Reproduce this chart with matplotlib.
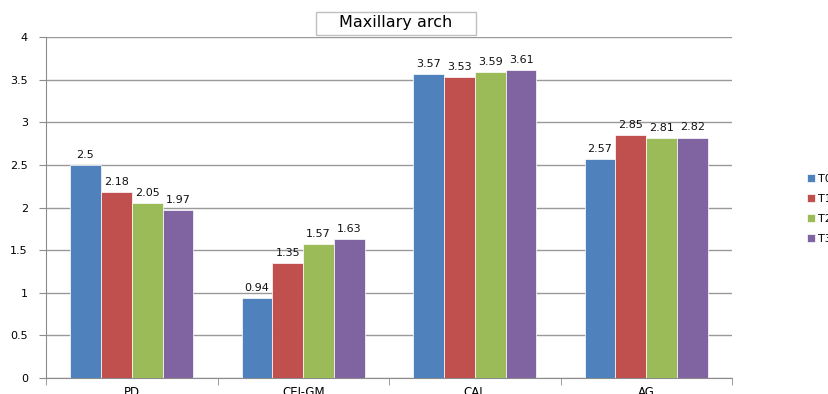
import matplotlib
matplotlib.use("Agg")
import matplotlib.pyplot as plt
from matplotlib.patches import Rectangle
import numpy as np

categories = ["PD", "CEJ-GM", "CAL", "AG"]
series_names = ["T0", "T1", "T2", "T3"]
T0 = [2.5, 0.94, 3.57, 2.57]
T1 = [2.18, 1.35, 3.53, 2.85]
T2 = [2.05, 1.57, 3.59, 2.81]
T3 = [1.97, 1.63, 3.61, 2.82]
values = [T0, T1, T2, T3]
colors = ["#4F81BD", "#C0504D", "#9BBB59", "#8064A2"]

plt.rcParams['font.family'] = ['DejaVu Sans']
fig = plt.figure(figsize=(8.29, 3.94), dpi=100)
ax = fig.add_axes([46/829, 16/394, (732-46)/829, (378-37)/394])

x = np.arange(len(categories))
w = 0.18
for i, (name, vals, c) in enumerate(zip(series_names, values, colors)):
    pos = x - 0.27 + i * w
    ax.bar(pos, vals, width=w, color=c, edgecolor="white", linewidth=0.5, label=name, zorder=3)
    for p, v in zip(pos, vals):
        ax.text(p, v + 0.06, f"{v:g}", ha="center", va="bottom", fontsize=8, color="#111111")

ax.set_xlim(-0.5, 3.5)
ax.set_ylim(0, 4)
ax.set_yticks(np.arange(0, 4.01, 0.5))
ax.set_yticklabels([f"{t:g}" for t in np.arange(0, 4.01, 0.5)], fontsize=8)
ax.yaxis.grid(True, color="#999999", linewidth=1, zorder=0)
ax.set_axisbelow(True)
ax.set_xticks(x)
ax.set_xticklabels(categories, fontsize=8.5)
ax.set_xticks(np.arange(-0.5, 3.6, 1), minor=True)
ax.tick_params(axis="x", which="major", length=0, pad=6)
ax.tick_params(axis="x", which="minor", length=5, color="#8c8c8c", direction="out")
ax.tick_params(axis="y", length=5, color="#8c8c8c", direction="out", pad=8)
for s in ["top", "right"]:
    ax.spines[s].set_visible(False)
for s in ["left", "bottom"]:
    ax.spines[s].set_color("#8c8c8c")

fig.patches.append(Rectangle((316/829, 1 - 35/394), 160/829, 23/394, transform=fig.transFigure,
                             facecolor="white", edgecolor="#c0c0c0", linewidth=1, zorder=5))
fig.text(396/829, 1 - 23/394, "Maxillary arch", ha="center", va="center", fontsize=11.5, zorder=6)

leg = fig.legend(loc="center left", bbox_to_anchor=(797/829, 1 - 209/394), frameon=False,
                 fontsize=8, handlelength=0.7, handleheight=0.7, handletextpad=0.3, labelspacing=0.9)

fig.savefig("out.png", dpi=100)
